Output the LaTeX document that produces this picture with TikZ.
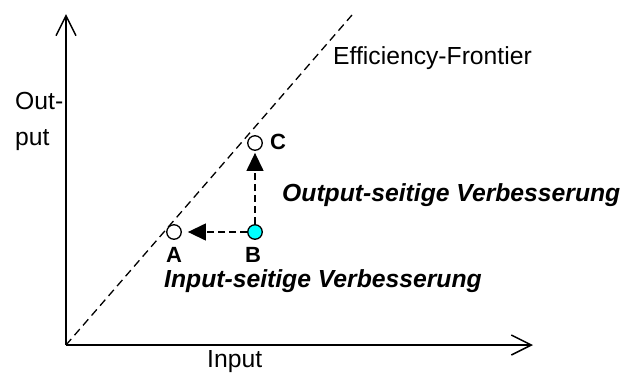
\documentclass[tikz,border=0pt]{standalone}
\usepackage{fontspec}
\setmainfont{Liberation Sans}
\usetikzlibrary{arrows.meta}
\definecolor{cyanfill}{RGB}{0,255,255}
\tikzset{
  axis/.style={line width=1.5pt,-{Straight Barb[length=20pt,width=20pt,line width=1.5pt]}},
  frontier/.style={line width=1.3pt,dash pattern=on 8pt off 5pt},
  pt/.style={circle,draw,line width=1.3pt,minimum size=14.5pt,inner sep=0pt,fill=white},
  move/.style={line width=1.3pt,dash pattern=on 7pt off 4pt,-{Triangle[length=18pt,width=17pt]}},
  lbl/.style={font=\fontsize{24.7}{28}\selectfont,inner sep=0pt},
  ptlbl/.style={font=\fontsize{22}{24}\selectfont\bfseries,inner sep=0pt},
  imp/.style={font=\fontsize{24.7}{28}\selectfont\bfseries\itshape,inner sep=0pt}
}
\begin{document}
\begin{tikzpicture}[x=1pt,y=-1pt]
\useasboundingbox (0,0) rectangle (626,373);
\coordinate (O) at (66,345);
\coordinate (Ytop) at (66,14);
\coordinate (Xend) at (533,345);
\coordinate (Ftop) at (352,15);
\draw[axis] (O) -- (Ytop);
\draw[axis] (O) -- (Xend);
\draw[frontier] (O) -- (Ftop);
\node[pt] (A) at (174,232) {};
\node[pt,fill=cyanfill] (B) at (255,232) {};
\node[pt] (C) at (255,143) {};
\draw[move,shorten >=6pt] (B) -- (A);
\draw[move,shorten >=2pt] (B) -- (C);
\node[ptlbl,anchor=base] (lA) at (174,262) {A};
\node[ptlbl,anchor=base] (lB) at (253,262) {B};
\node[ptlbl,anchor=base west] (lC) at (270,149) {C};
\node[lbl,anchor=base west] (ef) at (333,64) {Efficiency-Frontier};
\node[lbl,anchor=base west] (out1) at (15,109) {Out-};
\node[lbl,anchor=base west] (out2) at (15,145) {put};
\node[lbl,anchor=base west] (inp) at (207,367) {Input};
\node[imp,anchor=base west] (ov) at (282,201) {Output-seitige Verbesserung};
\node[imp,anchor=base west] (iv) at (164,287) {Input-seitige Verbesserung};
\end{tikzpicture}
\end{document}
